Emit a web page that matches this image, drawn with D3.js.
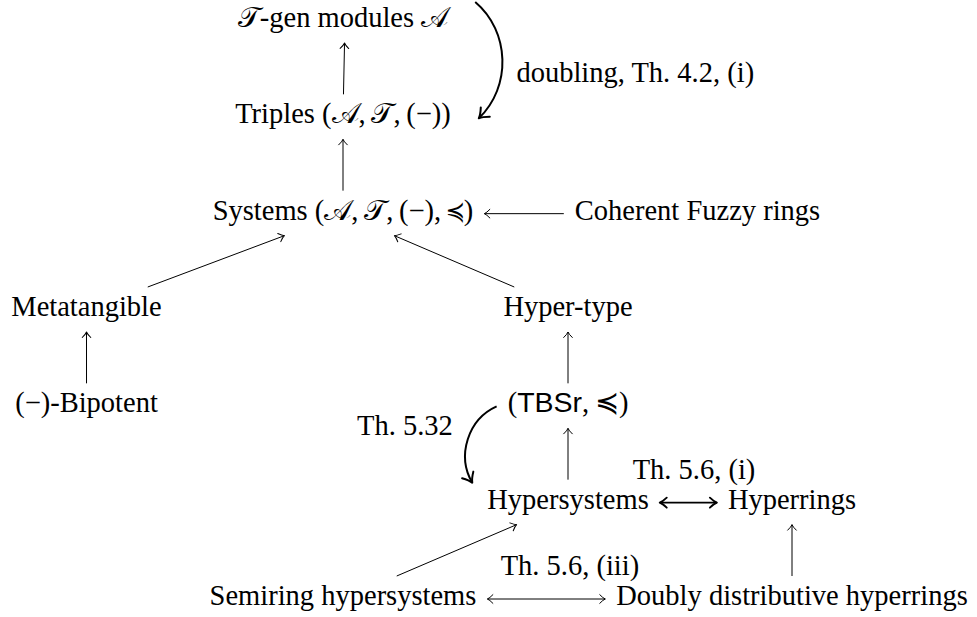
<!DOCTYPE html>
<html>
<head>
<meta charset="utf-8">
<script src="https://cdn.jsdelivr.net/npm/d3@7"></script>
<style>
    body { margin: 0; background: #fff; }
    text { font-family: "Liberation Serif", serif; font-size: 28.5px; fill: #000; }
    .sf { font-family: "Liberation Sans", sans-serif; }
</style>
</head>
<body>
<svg id="chart" width="977" height="617"></svg>
<script>
// nodes of the diagram: id, label pieces, grid row and column
var nodeIds = ["tgen", "triples", "systems", "coherent", "meta", "hyper",
               "bipotent", "tbsr", "hsys", "hrings", "semi", "doubly"]
var nodeLabels = [
    [["𝒯", "cal"], ["-gen modules ", ""], ["𝒜", "cal"]],
    [["Triples (", ""], ["𝒜", "cal"], [",\u2009", ""], ["𝒯", "cal"], [",\u2009(−))", ""]],
    [["Systems (", ""], ["𝒜", "cal"], [",\u2009", ""], ["𝒯", "cal"], [",\u2009(−),\u2009≼)", ""]],
    [["Coherent Fuzzy rings", ""]],
    [["Metatangible", ""]],
    [["Hyper-type", ""]],
    [["(−)-Bipotent", ""]],
    [["(", ""], ["TBSr", "sf"], [",\u2009≼)", ""]],
    [["Hypersystems", ""]],
    [["Hyperrings", ""]],
    [["Semiring hypersystems", ""]],
    [["Doubly distributive hyperrings", ""]]
]
var nodeRows = [0, 1, 2, 2, 3, 3, 4, 4, 5, 5, 6, 6]
var nodeCols = [1, 1, 1, 3, 0, 2, 0, 2, 2, 4, 1, 4]

// arrows: from, to, kind, label
var edges = [
    ["triples", "tgen", "to", ""],
    ["systems", "triples", "to", ""],
    ["coherent", "systems", "to", ""],
    ["meta", "systems", "to", ""],
    ["hyper", "systems", "to", ""],
    ["bipotent", "meta", "to", ""],
    ["tbsr", "hyper", "to", ""],
    ["hsys", "tbsr", "to", ""],
    ["hsys", "hrings", "bothBold", "Th. 5.6, (i)"],
    ["semi", "hsys", "to", ""],
    ["semi", "doubly", "both", "Th. 5.6, (iii)"],
    ["doubly", "hrings", "to", ""],
    ["tgen", "triples", "bend", "doubling, Th. 4.2, (i)"],
    ["tbsr", "hsys", "bend", "Th. 5.32"]
]

var svg = d3.select("#chart")
var rowScale = d3.scaleLinear().domain([0, 6]).range([27, 605])
var colScale = d3.scaleOrdinal().domain([0, 1, 2, 3, 4]).range([86.5, 343, 568, 697.5, 792])

var pad = 11, asc = 29, desc = 16, axis = 6
var nodes = {}

nodeIds.forEach(function(id, i) {
    var x = colScale(nodeCols[i]), base = rowScale(nodeRows[i])
    var t = svg.append("text")
        .attr("x", x)
        .attr("y", base)
        .attr("text-anchor", "middle")
    nodeLabels[i].forEach(function(seg) {
        t.append("tspan").attr("class", seg[1] || null).text(seg[0])
    })
    var bb = t.node().getBBox()
    nodes[id] = {
        cx: bb.x + bb.width / 2, cy: base - axis,
        x0: bb.x - pad, x1: bb.x + bb.width + pad,
        y0: base - asc, y1: base + desc
    }
})

function exitPoint(n, dx, dy) {
    var tx = dx > 0 ? (n.x1 - n.cx) / dx : dx < 0 ? (n.x0 - n.cx) / dx : Infinity
    var ty = dy > 0 ? (n.y1 - n.cy) / dy : dy < 0 ? (n.y0 - n.cy) / dy : Infinity
    var t = Math.min(tx, ty)
    return [n.cx + t * dx, n.cy + t * dy]
}

var styles = {
    to: { sw: 1, L: 5.5, W: 4.3 },
    both: { sw: 1, L: 5.5, W: 4.3 },
    bothBold: { sw: 1.9, L: 7, W: 5 },
    bend: { sw: 2, L: 9, W: 6.5 }
}

function head(p, ang, st) {
    var L = st.L, W = st.W
    svg.append("path")
        .attr("d", "M" + (-L) + "," + W + "Q" + (-0.4 * L) + "," + (0.2 * W) + " 0,0" +
                   "Q" + (-0.4 * L) + "," + (-0.2 * W) + " " + (-L) + "," + (-W))
        .attr("transform", "translate(" + p[0] + "," + p[1] + ") rotate(" + ang * 180 / Math.PI + ")")
        .attr("fill", "none")
        .attr("stroke", "#000")
        .attr("stroke-width", st.sw)
        .attr("stroke-linecap", "round")
        .attr("stroke-linejoin", "round")
}

// where the curved arrows start and end, and which side they bulge to
var curveAnchors = {
    "tgen>triples": function(a, b) { return [[a.x1 + 12, a.y0 + 4], [b.x1 + 17, b.cy + 1], 1] },
    "tbsr>hsys": function(a, b) { return [[a.x0, a.cy], [b.x0 - 4, b.y0 + 3], -1] }
}
var labelPos = { "Th. 5.6, (i)": 0.6, "Th. 5.6, (iii)": 0.7 }

edges.forEach(function(e) {
    var a = nodes[e[0]], b = nodes[e[1]], st = styles[e[2]]
    if (e[2] === "bend") {
        var c = curveAnchors[e[0] + ">" + e[1]](a, b)
        var A = c[0], B = c[1], s = c[2]
        var dx = B[0] - A[0], dy = B[1] - A[1], len = Math.hypot(dx, dy)
        var ux = dx / len, uy = dy / len, nx = s * uy, ny = -s * ux
        var th = 48 * Math.PI / 180, k = 0.3915 * len
        var P1 = [A[0] + k * (Math.cos(th) * ux + Math.sin(th) * nx), A[1] + k * (Math.cos(th) * uy + Math.sin(th) * ny)]
        var P2 = [B[0] + k * (-Math.cos(th) * ux + Math.sin(th) * nx), B[1] + k * (-Math.cos(th) * uy + Math.sin(th) * ny)]
        var p = d3.path()
        p.moveTo(A[0], A[1])
        p.bezierCurveTo(P1[0], P1[1], P2[0], P2[1], B[0], B[1])
        svg.append("path").attr("d", p.toString())
            .attr("fill", "none").attr("stroke", "#000").attr("stroke-width", st.sw)
        head(B, Math.atan2(B[1] - P2[1], B[0] - P2[0]), st)
        var mx = 0.125 * (A[0] + B[0]) + 0.375 * (P1[0] + P2[0])
        var my = 0.125 * (A[1] + B[1]) + 0.375 * (P1[1] + P2[1])
        svg.append("text")
            .attr("x", s > 0 ? mx + 14 : mx - 15)
            .attr("y", s > 0 ? my + 23 : my - 4)
            .attr("text-anchor", s > 0 ? "start" : "end")
            .text(e[3])
        return
    }
    var ddx = b.cx - a.cx, ddy = b.cy - a.cy
    var p0 = exitPoint(a, ddx, ddy), p1 = exitPoint(b, -ddx, -ddy)
    svg.append("line")
        .attr("x1", p0[0]).attr("y1", p0[1])
        .attr("x2", p1[0]).attr("y2", p1[1])
        .attr("stroke", "#000").attr("stroke-width", st.sw)
    var ang = Math.atan2(ddy, ddx)
    head(p1, ang, st)
    if (e[2] !== "to") head(p0, ang + Math.PI, st)
    if (e[3]) {
        var f = labelPos[e[3]] || 0.5
        svg.append("text")
            .attr("x", p0[0] + f * (p1[0] - p0[0]))
            .attr("y", p0[1] + f * (p1[1] - p0[1]) - 24)
            .attr("text-anchor", "middle")
            .text(e[3])
    }
})
</script>
</body>
</html>
